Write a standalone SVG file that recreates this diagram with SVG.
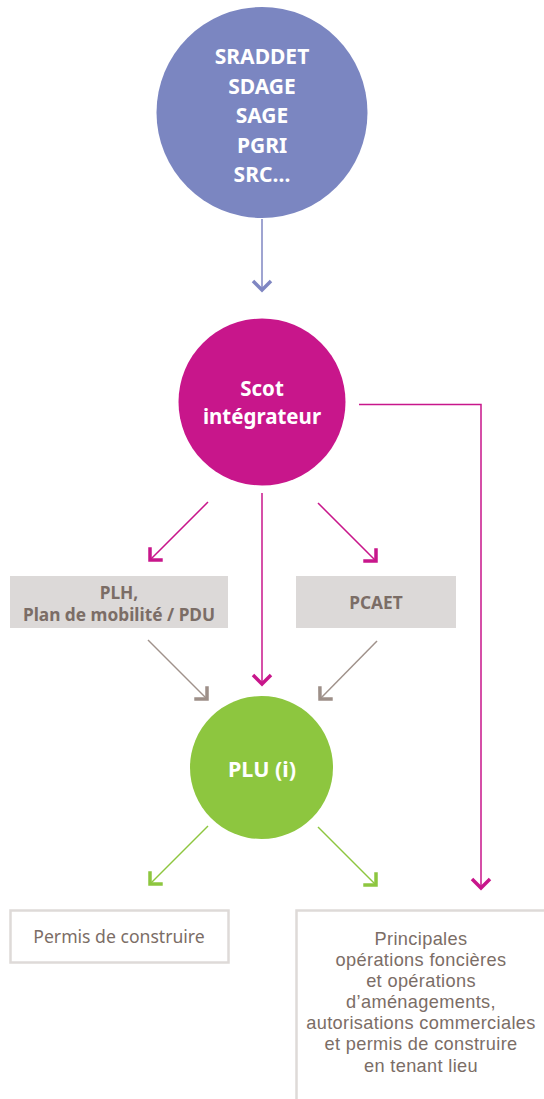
<svg xmlns="http://www.w3.org/2000/svg" width="544" height="1099" viewBox="0 0 544 1099">
<style>
.t{font-family:"Noto Sans","Open Sans","DejaVu Sans",sans-serif;text-anchor:middle}
.wb{fill:#ffffff;font-weight:bold;font-size:21px}
.gb{fill:#7b6d66;font-weight:bold;font-size:17.3px}
.gn{fill:#7b6d66;font-size:17.6px}
.gl{font-family:"Liberation Sans",Arial,sans-serif;fill:#7b6d66;font-size:18.2px;letter-spacing:0.35px;text-anchor:middle}
.box{fill:#dcd9d8}
.obox{fill:#ffffff;stroke:#dedad8;stroke-width:2.5}
.lm{stroke:#c8168b;stroke-width:1.5;fill:none}
.lg{stroke:#a0928b;stroke-width:1.5;fill:none}
.lgr{stroke:#8dc63f;stroke-width:1.5;fill:none}
.lp{stroke:#7f86c2;stroke-width:1.5;fill:none}
</style>
<defs>
<marker id="am" markerUnits="userSpaceOnUse" markerWidth="24" markerHeight="24" refX="0" refY="0" viewBox="-14 -12 18 24" orient="auto" overflow="visible"><path d="M-9,-9 L0,0 L-9,9" fill="none" stroke="#c8168b" stroke-width="3.5" stroke-linejoin="miter"/></marker>
<marker id="ag" markerUnits="userSpaceOnUse" markerWidth="24" markerHeight="24" refX="0" refY="0" viewBox="-14 -12 18 24" orient="auto" overflow="visible"><path d="M-9,-9 L0,0 L-9,9" fill="none" stroke="#9d8f88" stroke-width="3.5" stroke-linejoin="miter"/></marker>
<marker id="agr" markerUnits="userSpaceOnUse" markerWidth="24" markerHeight="24" refX="0" refY="0" viewBox="-14 -12 18 24" orient="auto" overflow="visible"><path d="M-9,-9 L0,0 L-9,9" fill="none" stroke="#8dc63f" stroke-width="3.5" stroke-linejoin="miter"/></marker>
<marker id="ap" markerUnits="userSpaceOnUse" markerWidth="24" markerHeight="24" refX="0" refY="0" viewBox="-14 -12 18 24" orient="auto" overflow="visible"><path d="M-9,-9 L0,0 L-9,9" fill="none" stroke="#7f86c2" stroke-width="3.5" stroke-linejoin="miter"/></marker>
</defs>
<rect width="544" height="1099" fill="#ffffff"/>
<g id="connectors">
<line class="lp" x1="262" y1="219" x2="262" y2="290" marker-end="url(#ap)"/>
<line class="lm" x1="208" y1="502" x2="150" y2="560" marker-end="url(#am)"/>
<line class="lm" x1="318" y1="503" x2="376" y2="561" marker-end="url(#am)"/>
<line class="lm" x1="262" y1="493" x2="262" y2="684" marker-end="url(#am)"/>
<polyline class="lm" points="359,404.5 481,404.5 481,888" marker-end="url(#am)"/>
<line class="lg" x1="148" y1="640" x2="207" y2="699" marker-end="url(#ag)"/>
<line class="lg" x1="377" y1="641" x2="320" y2="699" marker-end="url(#ag)"/>
<line class="lgr" x1="208" y1="826" x2="150" y2="884" marker-end="url(#agr)"/>
<line class="lgr" x1="318" y1="827" x2="376" y2="885" marker-end="url(#agr)"/>
</g>
<g id="sraddet">
<circle cx="262" cy="112.5" r="105.5" fill="#7b86c1"/>
<text class="t wb" x="262" y="64">SRADDET</text>
<text class="t wb" x="262" y="94">SDAGE</text>
<text class="t wb" x="262" y="123">SAGE</text>
<text class="t wb" x="262" y="153">PGRI</text>
<text class="t wb" x="262" y="182">SRC…</text>
</g>
<g id="scot">
<circle cx="262" cy="402" r="83.5" fill="#c8168b"/>
<text class="t wb" x="262" y="396" style="font-size:20.5px">Scot</text>
<text class="t wb" x="262" y="424" style="font-size:20.5px">intégrateur</text>
</g>
<g id="plh">
<rect class="box" x="10" y="576" width="218" height="52"/>
<text class="t gb" x="119" y="599">PLH,</text>
<text class="t gb" x="119" y="621">Plan de mobilité / PDU</text>
</g>
<g id="pcaet">
<rect class="box" x="296" y="576" width="160" height="52"/>
<text class="t gb" x="376" y="609">PCAET</text>
</g>
<g id="plu">
<circle cx="261.5" cy="767.5" r="71.5" fill="#8dc63f"/>
<text class="t wb" x="262" y="777" style="font-size:21.5px">PLU (i)</text>
</g>
<g id="permis">
<rect class="obox" x="10.5" y="910.5" width="218" height="52"/>
<text class="t gn" x="119" y="943">Permis de construire</text>
</g>
<g id="operations">
<rect class="obox" x="296.5" y="910.5" width="270" height="220"/>
<text class="gl" x="421" y="945">Principales</text>
<text class="gl" x="421" y="966">opérations foncières</text>
<text class="gl" x="421" y="987">et opérations</text>
<text class="gl" x="421" y="1008">d’aménagements,</text>
<text class="gl" x="421" y="1029">autorisations commerciales</text>
<text class="gl" x="421" y="1050">et permis de construire</text>
<text class="gl" x="421" y="1072">en tenant lieu</text>
</g>
</svg>
